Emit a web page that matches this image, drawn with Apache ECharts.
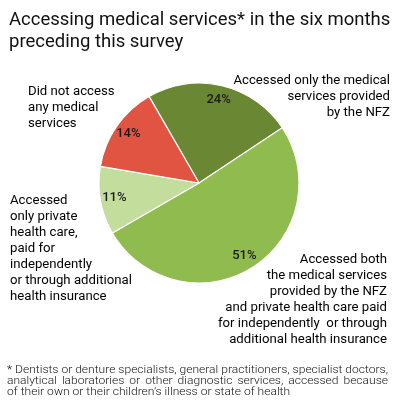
<!DOCTYPE html>
<html>
<head>
<meta charset="utf-8">
<script src="https://cdn.jsdelivr.net/npm/echarts@6/dist/echarts.min.js"></script>
<style>
  html, body { margin: 0; padding: 0; background: #fff; }
  #chart { width: 397px; height: 408px; }
</style>
</head>
<body>
<div id="chart"></div>
<script>
// data, clockwise from the top
const categories = [
  'Accessed only the medical\nservices provided\nby the NFZ',
  'Accessed both\nthe medical services\nprovided by the NFZ\nand private health care paid\nfor independently  or through\nadditional health insurance',
  'Accessed\nonly private\nhealth care,\npaid for\nindependently\nor through additional\nhealth insurance',
  'Did not access\nany medical\nservices'
]
const shares = [24, 51, 11, 14]
const colors = ['#6a8734', '#8fbb4f', '#c3dd9c', '#e25442']

const footLines = [
  '* Dentists or denture specialists, general practitioners, specialist doctors,',
  'analytical laboratories or other diagnostic services, accessed because',
  'of their own or their children\u2019s illness or state of health'
]

const chartRef = document.getElementById('chart')
const chartInstance = echarts.init(chartRef)

const pieData = shares.map((v, i) => ({
  name: categories[i],
  value: v,
  itemStyle: { color: colors[i] }
}))

// outer text blocks: [x, y, align]
const labelPos = [
  [390, 73, 'right'],
  [387, 252, 'right'],
  [10, 193, 'left'],
  [28, 84, 'left']
]

// footnote font is a wide, light face: stretch a normal one horizontally
const footFont = '300 10.5px Roboto'
const footLeft = 7
const footRight = 388
const ctx = document.createElement('canvas').getContext('2d')
ctx.font = footFont
const stretch = (footRight - footLeft) / ctx.measureText(footLines[0]).width

function footText(text, x, y) {
  return {
    type: 'text', x: x, y: y, scaleX: stretch,
    style: { text: text, font: footFont, fill: '#111', textVerticalAlign: 'middle' }
  }
}

// spread the words of a line so it fills the width (justified)
function justify(line, y) {
  const words = line.split(' ')
  const widths = words.map(w => ctx.measureText(w).width * stretch)
  const total = widths.reduce((a, b) => a + b, 0)
  const gap = (footRight - footLeft - total) / (words.length - 1)
  let x = footLeft
  return words.map((w, i) => {
    const el = footText(w, x, y)
    x += widths[i] + gap
    return el
  })
}

const graphics = []
categories.forEach((c, i) => {
  graphics.push({
    type: 'text',
    x: labelPos[i][0],
    y: labelPos[i][1],
    style: {
      text: c,
      font: '13.2px Roboto',
      lineHeight: 16,
      fill: '#000',
      textAlign: labelPos[i][2],
      textVerticalAlign: 'top'
    }
  })
})
graphics.push(footText(footLines[0], footLeft, 370))
graphics.push(...justify(footLines[1], 381))
graphics.push(footText(footLines[2], footLeft, 392))

const option = {
  animation: false,
  title: {
    text: 'Accessing medical services* in the six months\npreceding this survey',
    left: 4,
    top: 4,
    textStyle: {
      fontFamily: 'Roboto',
      fontSize: 18.5,
      fontWeight: 'normal',
      lineHeight: 22,
      color: '#111'
    }
  },
  series: [
    {
      type: 'pie',
      center: [199, 183],
      radius: [0, 100],
      startAngle: 120,
      clockwise: true,
      label: { show: false },
      labelLine: { show: false },
      itemStyle: { borderColor: '#fff', borderWidth: 1.2 },
      data: pieData
    },
    {
      // invisible ring only used to place the percentages at ~83px from the centre
      type: 'pie',
      center: [199, 183],
      radius: [0, 166],
      startAngle: 120,
      clockwise: true,
      silent: true,
      z: 3,
      itemStyle: { color: 'rgba(0,0,0,0)', borderWidth: 0 },
      label: {
        show: true,
        position: 'inside',
        formatter: '{c}%',
        fontFamily: 'Roboto',
        fontSize: 13,
        fontWeight: 500,
        color: '#1a1a1a'
      },
      labelLine: { show: false },
      data: shares.map((v, i) => ({ name: categories[i], value: v }))
    }
  ],
  graphic: graphics
}

chartInstance.setOption(option)
window.addEventListener('resize', () => chartInstance.resize())
</script>
</body>
</html>
